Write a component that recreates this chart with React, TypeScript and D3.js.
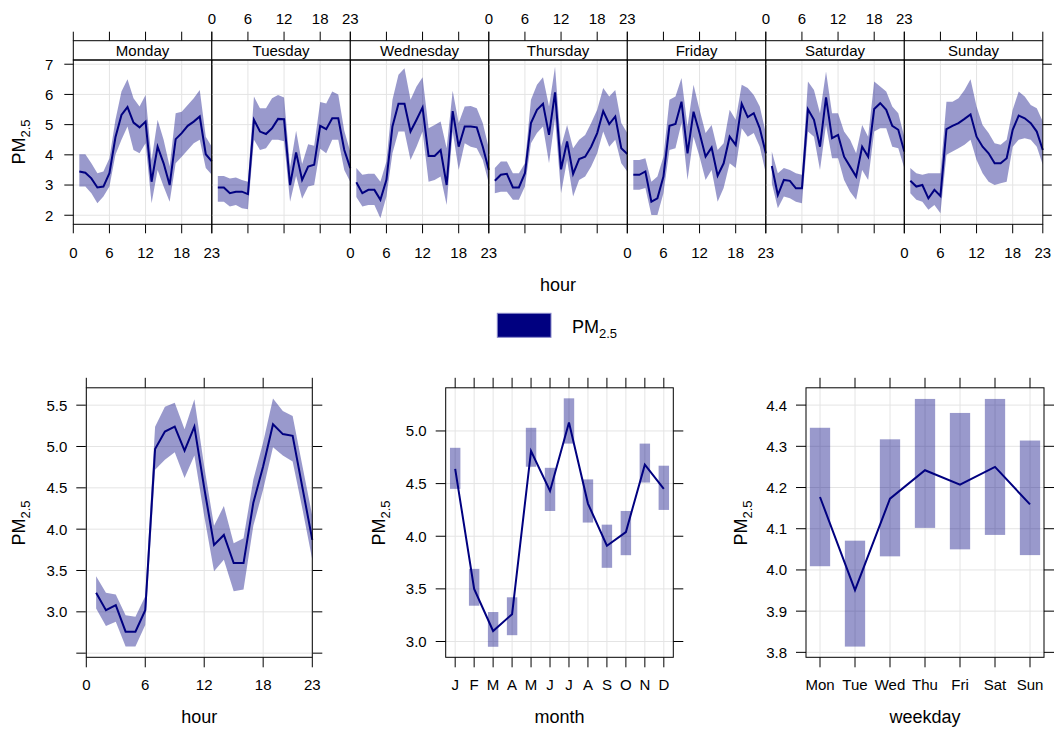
import * as d3 from 'd3';

// hours present in the data (hour 0 is missing)
const hours = [1, 2, 3, 4, 5, 6, 7, 8, 9, 10, 11, 12, 13, 14, 15, 16, 17, 18, 19, 20, 21, 22, 23];
const hourTicks = [0, 6, 12, 18, 23];
const dayNames = ['Monday', 'Tuesday', 'Wednesday', 'Thursday', 'Friday', 'Saturday', 'Sunday'];

const monMean = [3.45, 3.41, 3.22, 2.92, 2.95, 3.39, 4.58, 5.32, 5.58, 5.07, 4.91, 5.10, 3.11, 4.27, 3.72, 3.00, 4.52, 4.72, 4.96, 5.10, 5.27, 4.02, 3.78];
const monHigh = [4.02, 4.02, 3.72, 3.39, 3.45, 3.89, 5.16, 6.10, 6.50, 5.87, 5.60, 5.98, 3.83, 5.16, 4.50, 3.61, 5.38, 5.43, 5.65, 5.87, 6.15, 4.60, 4.27];
const monLow = [2.95, 2.95, 2.73, 2.40, 2.62, 2.95, 4.00, 4.50, 4.94, 4.16, 4.05, 4.38, 2.40, 3.50, 2.95, 2.45, 3.72, 3.94, 4.16, 4.38, 4.50, 3.56, 3.34];

const tueMean = [2.92, 2.92, 2.73, 2.78, 2.78, 2.70, 5.16, 4.77, 4.69, 4.88, 5.19, 5.18, 3.00, 4.08, 3.17, 3.61, 3.67, 4.96, 4.85, 5.21, 5.21, 4.16, 3.56];
const tueHigh = [3.30, 3.30, 3.22, 3.25, 3.17, 3.11, 5.93, 5.54, 5.54, 5.87, 5.98, 5.90, 3.60, 4.80, 3.70, 4.35, 4.30, 5.75, 5.70, 6.10, 6.00, 4.80, 4.10];
const tueLow = [2.45, 2.45, 2.29, 2.34, 2.23, 2.20, 4.50, 4.16, 4.22, 4.50, 4.50, 4.45, 2.45, 3.30, 2.55, 2.95, 3.00, 4.20, 4.05, 4.50, 4.50, 3.50, 3.10];

const wedMean = [3.09, 2.73, 2.84, 2.84, 2.51, 3.17, 4.94, 5.69, 5.69, 4.77, 5.16, 5.57, 3.96, 3.96, 4.16, 3.00, 5.45, 4.27, 4.94, 4.94, 4.91, 4.27, 3.50];
const wedHigh = [3.56, 3.34, 3.37, 3.37, 3.11, 3.78, 5.82, 6.65, 6.87, 5.82, 6.26, 6.57, 4.88, 4.99, 5.10, 4.22, 6.12, 5.05, 5.60, 5.62, 5.54, 5.05, 4.22];
const wedLow = [2.60, 2.29, 2.34, 2.34, 1.90, 2.62, 4.05, 4.77, 4.77, 3.83, 4.27, 4.77, 3.11, 3.17, 3.28, 2.34, 4.77, 3.50, 4.38, 4.27, 4.22, 3.83, 3.06];

const thuMean = [3.14, 3.34, 3.37, 2.92, 2.92, 3.39, 5.05, 5.49, 5.69, 4.66, 6.07, 3.52, 4.44, 3.37, 3.86, 3.94, 4.27, 4.72, 5.45, 5.02, 5.27, 4.22, 4.03];
const thuHigh = [3.56, 3.78, 3.78, 3.39, 3.39, 3.72, 5.82, 6.32, 6.57, 5.60, 6.92, 4.27, 4.99, 4.22, 4.50, 4.66, 5.05, 5.49, 6.21, 5.93, 6.15, 5.05, 4.72];
const thuLow = [2.73, 2.78, 2.78, 2.51, 2.51, 2.95, 4.38, 4.72, 4.94, 3.72, 5.21, 2.73, 3.83, 2.62, 3.17, 3.28, 3.61, 4.05, 4.77, 4.27, 4.50, 3.72, 3.45];

const friMean = [3.34, 3.34, 3.45, 2.45, 2.56, 3.28, 4.96, 5.02, 5.76, 4.05, 5.43, 4.72, 3.94, 4.24, 3.31, 3.72, 4.60, 4.33, 5.69, 5.25, 5.38, 4.88, 4.05];
const friHigh = [3.83, 3.83, 3.89, 3.11, 3.28, 3.94, 5.82, 5.93, 6.54, 4.94, 6.32, 5.49, 4.72, 4.99, 4.16, 4.38, 5.49, 5.16, 6.32, 6.21, 5.98, 5.60, 4.72];
const friLow = [2.84, 2.84, 2.90, 2.01, 2.01, 2.73, 4.16, 4.22, 5.05, 3.17, 4.60, 3.94, 3.17, 3.50, 2.45, 2.90, 3.72, 3.56, 4.88, 4.60, 4.72, 4.27, 3.39];

const satMean = [3.63, 2.67, 3.17, 3.14, 2.89, 2.89, 5.51, 5.16, 4.27, 5.90, 4.55, 4.66, 3.94, 3.61, 3.28, 4.27, 3.94, 5.52, 5.71, 5.49, 4.96, 4.83, 4.11];
const satHigh = [4.11, 3.39, 3.56, 3.50, 3.39, 3.34, 6.43, 6.15, 5.38, 6.76, 5.38, 5.38, 4.77, 4.50, 4.05, 4.99, 4.60, 6.43, 6.26, 6.10, 5.60, 5.38, 4.60];
const satLow = [3.06, 2.23, 2.62, 2.56, 2.45, 2.40, 4.77, 4.60, 3.50, 4.99, 3.89, 3.89, 3.17, 2.78, 2.51, 3.50, 3.17, 4.77, 4.88, 4.88, 4.27, 4.22, 3.56];

const sunMean = [3.14, 2.95, 3.00, 2.56, 2.84, 2.64, 4.85, 4.96, 5.05, 5.19, 5.34, 4.60, 4.27, 4.05, 3.72, 3.72, 3.89, 4.83, 5.30, 5.21, 5.05, 4.77, 4.16];
const sunHigh = [3.56, 3.39, 3.34, 3.39, 3.39, 3.39, 5.76, 5.76, 5.87, 6.15, 6.50, 5.60, 4.99, 4.72, 4.38, 4.33, 4.50, 5.49, 6.10, 5.93, 5.65, 5.54, 5.10];
const sunLow = [2.73, 2.51, 2.45, 2.18, 2.34, 2.07, 4.00, 4.11, 4.22, 4.33, 4.50, 3.83, 3.39, 3.11, 3.00, 3.06, 3.11, 4.27, 4.50, 4.55, 4.50, 4.27, 3.67];

const hourMean = [3.23, 3.02, 3.08, 2.76, 2.76, 3.02, 4.97, 5.18, 5.24, 4.95, 5.24, 4.50, 3.81, 3.93, 3.59, 3.59, 4.32, 4.76, 5.27, 5.15, 5.13, 4.50, 3.87];
const hourHigh = [3.43, 3.23, 3.21, 2.96, 2.94, 3.19, 5.24, 5.48, 5.53, 5.21, 5.57, 4.76, 4.04, 4.28, 3.83, 3.89, 4.60, 5.05, 5.58, 5.43, 5.37, 4.76, 4.16];
const hourLow = [3.04, 2.83, 2.88, 2.58, 2.58, 2.84, 4.72, 4.84, 4.93, 4.62, 4.89, 4.16, 3.49, 3.63, 3.25, 3.27, 4.04, 4.48, 4.99, 4.89, 4.82, 4.24, 3.63];

const monthLabels = ['J', 'F', 'M', 'A', 'M', 'J', 'J', 'A', 'S', 'O', 'N', 'D'];
const monthMean = [4.64, 3.50, 3.10, 3.26, 4.81, 4.43, 5.08, 4.31, 3.91, 4.04, 4.68, 4.45];
const monthHigh = [4.84, 3.69, 3.28, 3.42, 5.03, 4.65, 5.31, 4.54, 4.11, 4.24, 4.88, 4.67];
const monthLow = [4.45, 3.34, 2.95, 3.06, 4.66, 4.24, 4.88, 4.13, 3.70, 3.82, 4.51, 4.25];

const weekdayLabels = ['Mon', 'Tue', 'Wed', 'Thu', 'Fri', 'Sat', 'Sun'];
const weekdayMean = [4.177, 3.951, 4.173, 4.242, 4.207, 4.250, 4.159];
const weekdayHigh = [4.345, 4.071, 4.317, 4.415, 4.381, 4.415, 4.314];
const weekdayLow = [4.009, 3.814, 4.033, 4.102, 4.050, 4.085, 4.036];

const dayMean = [monMean, tueMean, wedMean, thuMean, friMean, satMean, sunMean];
const dayHigh = [monHigh, tueHigh, wedHigh, thuHigh, friHigh, satHigh, sunHigh];
const dayLow = [monLow, tueLow, wedLow, thuLow, friLow, satLow, sunLow];

const navy = '#000080';
const gridCol = '#e4e4e4';
const font = '"Liberation Sans", Arial, sans-serif';
const tickSize = 15;

const PmLabel = ({ x, y, rotate = false, anchor = 'middle' }: any) => (
  <text
    transform={`translate(${x},${y})${rotate ? ' rotate(-90)' : ''}`}
    textAnchor={anchor}
    fontSize={18}
  >
    PM<tspan fontSize={13} dy={5}>2.5</tspan>
  </text>
);

// top: hour x day panels
const topLeft = 73.3;
const panelW = 138.5;
const stripTop = 40.7;
const plotTop = 60;
const plotBottom = 224.3;
const yTop = d3.scaleLinear().domain([1.70, 7.14]).range([plotBottom, plotTop]);
const yTopTicks = [2, 3, 4, 5, 6, 7];

const DayPanels = () => (
  <g>
    {dayNames.map((name, i) => {
      const x0 = topLeft + i * panelW;
      const x = d3.scaleLinear().domain([0, 23]).range([x0, x0 + panelW]);
      const area = d3.area<number>()
        .x((_, j) => x(hours[j]))
        .y0((_, j) => yTop(dayLow[i][j]))
        .y1(d => yTop(d));
      const line = d3.line<number>().x((_, j) => x(hours[j])).y(d => yTop(d));
      const labelsOnTop = i % 2 === 1;
      return (
        <g key={name}>
          {yTopTicks.map(v => (
            <line key={v} x1={x0} x2={x0 + panelW} y1={yTop(v)} y2={yTop(v)} stroke={gridCol} />
          ))}
          {[6, 12, 18].map(h => (
            <line key={h} x1={x(h)} x2={x(h)} y1={plotTop} y2={plotBottom} stroke={gridCol} />
          ))}
          <path d={area(dayHigh[i]) || ''} fill={navy} fillOpacity={0.4} />
          <path d={line(dayMean[i]) || ''} fill="none" stroke={navy} strokeWidth={2} />
          <rect x={x0} y={stripTop} width={panelW} height={plotTop - stripTop} fill="white" stroke="black" />
          <text x={x0 + panelW / 2} y={55.5} textAnchor="middle" fontSize={15}>{name}</text>
          <rect x={x0} y={plotTop} width={panelW} height={plotBottom - plotTop} fill="none" stroke="black" />
          {hourTicks.map(h => (
            <g key={h}>
              <line x1={x(h)} x2={x(h)} y1={stripTop} y2={stripTop - 9} stroke="black" />
              <line x1={x(h)} x2={x(h)} y1={plotBottom} y2={plotBottom + 9} stroke="black" />
              {labelsOnTop
                ? <text x={x(h)} y={24} textAnchor="middle" fontSize={tickSize}>{h}</text>
                : <text x={x(h)} y={258} textAnchor="middle" fontSize={tickSize}>{h}</text>}
            </g>
          ))}
        </g>
      );
    })}
    {yTopTicks.map(v => (
      <g key={v}>
        <line x1={topLeft - 9} x2={topLeft} y1={yTop(v)} y2={yTop(v)} stroke="black" />
        <line x1={topLeft + 7 * panelW} x2={topLeft + 7 * panelW + 9} y1={yTop(v)} y2={yTop(v)} stroke="black" />
        <text x={topLeft - 20} y={yTop(v)} dy="0.36em" textAnchor="end" fontSize={tickSize}>{v}</text>
      </g>
    ))}
    <PmLabel x={25} y={142} rotate />
    <text x={558} y={291} textAnchor="middle" fontSize={18}>hour</text>
  </g>
);

// generic bottom frame with ticks on all four sides
const bTop = 387.8;
const bBottom = 657.3;

const Frame = ({ x, y, xTicks, xText, yTicks, yText, title }: any) => {
  const [l, r] = x.range();
  return (
    <g>
      {yTicks.map((v: number) => (
        <g key={'y' + v}>
          <line x1={l} x2={r} y1={y(v)} y2={y(v)} stroke={gridCol} />
          <line x1={l - 10} x2={l} y1={y(v)} y2={y(v)} stroke="black" />
          <line x1={r} x2={r + 10} y1={y(v)} y2={y(v)} stroke="black" />
          {yText(v) && (
            <text x={l - 19} y={y(v)} dy="0.36em" textAnchor="end" fontSize={tickSize}>{yText(v)}</text>
          )}
        </g>
      ))}
      {xTicks.map((v: number, k: number) => (
        <g key={'x' + v}>
          <line x1={x(v)} x2={x(v)} y1={bTop} y2={bBottom} stroke={gridCol} />
          <line x1={x(v)} x2={x(v)} y1={bTop - 10} y2={bTop} stroke="black" />
          <line x1={x(v)} x2={x(v)} y1={bBottom} y2={bBottom + 10} stroke="black" />
          <text x={x(v)} y={690} textAnchor="middle" fontSize={tickSize}>{xText(v, k)}</text>
        </g>
      ))}
      <text x={(l + r) / 2} y={723} textAnchor="middle" fontSize={18}>{title}</text>
    </g>
  );
};

const HourPanel = () => {
  const x = d3.scaleLinear().domain([0, 23]).range([86.3, 312.3]);
  const y = d3.scaleLinear().domain([2.45, 5.71]).range([bBottom, bTop]);
  const area = d3.area<number>().x((_, j) => x(hours[j])).y0((_, j) => y(hourLow[j])).y1(d => y(d));
  const line = d3.line<number>().x((_, j) => x(hours[j])).y(d => y(d));
  const yTicks = [2.5, 3, 3.5, 4, 4.5, 5, 5.5];
  return (
    <g>
      <Frame
        x={x}
        y={y}
        xTicks={hourTicks}
        xText={(v: number) => v}
        yTicks={yTicks}
        yText={(v: number) => (v < 2.9 ? '' : d3.format('.1f')(v))}
        title="hour"
      />
      <path d={area(hourHigh) || ''} fill={navy} fillOpacity={0.4} />
      <path d={line(hourMean) || ''} fill="none" stroke={navy} strokeWidth={2} />
      <rect x={86.3} y={bTop} width={312.3 - 86.3} height={bBottom - bTop} fill="none" stroke="black" />
      <PmLabel x={25} y={523} rotate />
    </g>
  );
};

const MonthPanel = () => {
  const idx = monthLabels.map((_, k) => k + 1);
  const x = d3.scaleLinear().domain([0.5, 12.5]).range([445.7, 673.3]);
  const y = d3.scaleLinear().domain([2.85, 5.41]).range([bBottom, bTop]);
  const bw = (x(2) - x(1)) * 0.55;
  const line = d3.line<number>().x((_, j) => x(idx[j])).y(d => y(d));
  return (
    <g>
      <Frame
        x={x}
        y={y}
        xTicks={idx}
        xText={(_: number, k: number) => monthLabels[k]}
        yTicks={[3, 3.5, 4, 4.5, 5]}
        yText={(v: number) => d3.format('.1f')(v)}
        title="month"
      />
      {idx.map((m, j) => (
        <rect key={m} x={x(m) - bw / 2} width={bw} y={y(monthHigh[j])} height={y(monthLow[j]) - y(monthHigh[j])} fill={navy} fillOpacity={0.4} />
      ))}
      <path d={line(monthMean) || ''} fill="none" stroke={navy} strokeWidth={2} />
      <rect x={445.7} y={bTop} width={673.3 - 445.7} height={bBottom - bTop} fill="none" stroke="black" />
      <PmLabel x={385} y={523} rotate />
    </g>
  );
};

const WeekdayPanel = () => {
  const idx = weekdayLabels.map((_, k) => k + 1);
  const x = d3.scaleLinear().domain([0.6, 7.4]).range([806, 1044]);
  const y = d3.scaleLinear().domain([3.788, 4.442]).range([bBottom, bTop]);
  const bw = (x(2) - x(1)) * 0.58;
  const line = d3.line<number>().x((_, j) => x(idx[j])).y(d => y(d));
  return (
    <g>
      <Frame
        x={x}
        y={y}
        xTicks={idx}
        xText={(_: number, k: number) => weekdayLabels[k]}
        yTicks={[3.8, 3.9, 4.0, 4.1, 4.2, 4.3, 4.4]}
        yText={(v: number) => d3.format('.1f')(v)}
        title="weekday"
      />
      {idx.map((d, j) => (
        <rect key={d} x={x(d) - bw / 2} width={bw} y={y(weekdayHigh[j])} height={y(weekdayLow[j]) - y(weekdayHigh[j])} fill={navy} fillOpacity={0.4} />
      ))}
      <path d={line(weekdayMean) || ''} fill="none" stroke={navy} strokeWidth={2} />
      <rect x={806} y={bTop} width={1044 - 806} height={bBottom - bTop} fill="none" stroke="black" />
      <PmLabel x={747} y={523} rotate />
    </g>
  );
};

export default function App() {
  return (
    <svg
      width={1057}
      height={731}
      style={{ position: 'absolute', left: 0, top: 0, background: 'white' }}
      fontFamily={font}
      fill="#000"
    >
      <rect width={1057} height={731} fill="white" />
      <DayPanels />
      <rect x={497.3} y={313.3} width={53.7} height={24} fill={navy} stroke="#8888c8" />
      <PmLabel x={572} y={332.5} anchor="start" />
      <HourPanel />
      <MonthPanel />
      <WeekdayPanel />
    </svg>
  );
}
